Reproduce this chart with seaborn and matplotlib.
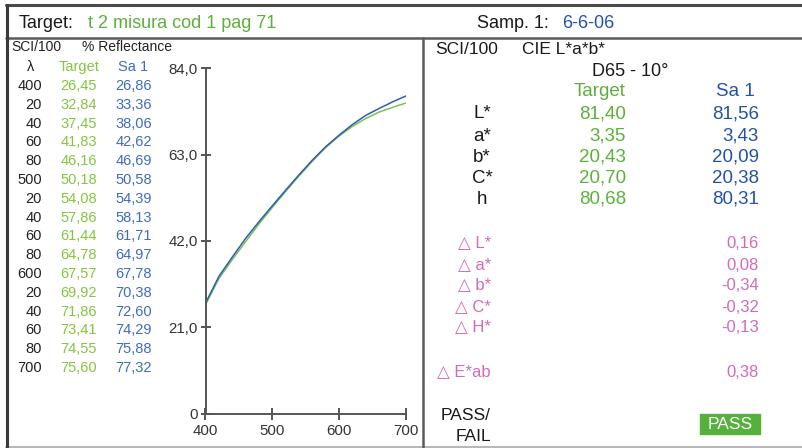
import matplotlib
matplotlib.use("Agg")
import matplotlib.pyplot as plt
from matplotlib.lines import Line2D
from matplotlib.patches import Rectangle
import numpy as np
import pandas as pd
import seaborn as sns

sns.set_theme(style="white")
plt.rcParams["font.family"] = ["Liberation Sans", "DejaVu Sans"]

# ---- data -------------------------------------------------------------
wavelengths = [400, 420, 440, 460, 480, 500, 520, 540, 560, 580,
               600, 620, 640, 660, 680, 700]
wl_labels = ["400", "20", "40", "60", "80", "500", "20", "40", "60", "80",
             "600", "20", "40", "60", "80", "700"]
target_refl = [26.45, 32.84, 37.45, 41.83, 46.16, 50.18, 54.08, 57.86,
               61.44, 64.78, 67.57, 69.92, 71.86, 73.41, 74.55, 75.60]
sample_refl = [26.86, 33.36, 38.06, 42.62, 46.69, 50.58, 54.39, 58.13,
               61.71, 64.97, 67.78, 70.38, 72.60, 74.29, 75.88, 77.32]

y_ticks = [0, 21, 42, 63, 84]
y_tick_labels = ["0", "21,0", "42,0", "63,0", "84,0"]
x_ticks = [400, 500, 600, 700]

lab_names = ["L*", "a*", "b*", "C*", "h"]
lab_target = ["81,40", "3,35", "20,43", "20,70", "80,68"]
lab_sample = ["81,56", "3,43", "20,09", "20,38", "80,31"]

delta_names = ["△ L*", "△ a*", "△ b*", "△ C*", "△ H*"]
delta_values = ["0,16", "0,08", "-0,34", "-0,32", "-0,13"]
delta_e_name = "△ E*ab"
delta_e_value = "0,38"

target_name = "t 2 misura cod 1 pag 71"
sample_date = "6-6-06"
verdict = "PASS"

# ---- colours ----------------------------------------------------------
GREEN = "#5cb03a"
GREEN_LIGHT = "#86c440"
BLUE = "#2552a8"
BLUE_TABLE = "#3f6cc0"
PINK = "#d46ab4"
DARK = "#1a1a1a"
GRAY = "#555555"

W, H = 802, 448
fig = plt.figure(figsize=(W / 100, H / 100), dpi=100)


def fx(x):
    return x / W


def fy(y):
    return 1 - y / H


def text(x, y, s, color=DARK, size=10, ha="left", **kw):
    fig.text(fx(x), fy(y), s, color=color, fontsize=size, ha=ha,
             va="center", **kw)


def hline(y, x0, x1, color=GRAY, lw=2.0):
    fig.add_artist(Line2D([fx(x0), fx(x1)], [fy(y), fy(y)], color=color,
                          lw=lw, transform=fig.transFigure))


def vline(x, y0, y1, color=GRAY, lw=2.0):
    fig.add_artist(Line2D([fx(x), fx(x)], [fy(y0), fy(y1)], color=color,
                          lw=lw, transform=fig.transFigure))


# ---- frame ------------------------------------------------------------
hline(5.5, 6, W, color="#4a4a4a", lw=2.2)
hline(38, 6, W, color="#5a5a5a", lw=1.8)
hline(447, 6, W, color="#b8b8b8", lw=1.5)
vline(6.5, 5, 447, color="#3a3a3a", lw=2.2)
vline(422.5, 38, 447, color="#5a5a5a", lw=1.8)

# ---- header -----------------------------------------------------------
text(19, 23, "Target:", size=13)
text(88, 23, target_name, color=GREEN, size=13)
text(477, 24, "Samp. 1:", size=13)
text(562, 24, sample_date, color=BLUE, size=13)

# ---- reflectance table ------------------------------------------------
text(11, 47, "SCI/100", size=10, color="#222222")
text(82, 47, "% Reflectance", size=10, color="#222222")
text(31, 67, "λ", size=10.5, ha="center", color="#222222")
text(79, 67, "Target", size=10.5, ha="center", color=GREEN_LIGHT)
text(133, 67, "Sa 1", size=10.5, ha="center", color=BLUE_TABLE)
row0, step = 86, 18.8
for i, (lbl, t, s) in enumerate(zip(wl_labels, target_refl, sample_refl)):
    y = row0 + step * i
    text(42, y, lbl, size=10.5, ha="right", color="#222222")
    text(97, y, f"{t:.2f}".replace(".", ","), size=10.5, ha="right",
         color=GREEN_LIGHT)
    text(152, y, f"{s:.2f}".replace(".", ","), size=10.5, ha="right",
         color=BLUE_TABLE)

# ---- reflectance curves -----------------------------------------------
ax = fig.add_axes([fx(205.5), fy(413.5), fx(406) - fx(205.5),
                   fy(68.5) - fy(413.5)])
df = pd.DataFrame({
    "wavelength": wavelengths * 2,
    "reflectance": target_refl + sample_refl,
    "series": ["Target"] * len(wavelengths) + ["Sa 1"] * len(wavelengths),
})
sns.lineplot(data=df, x="wavelength", y="reflectance", hue="series",
             palette={"Target": "#7cc24a", "Sa 1": "#2a5cc0"},
             hue_order=["Target", "Sa 1"], linewidth=1.1, ax=ax,
             legend=False)
ax.set_xlim(400, 700)
ax.set_ylim(0, 84)
ax.set_xticks(x_ticks)
ax.set_xticklabels([str(v) for v in x_ticks])
ax.set_yticks(y_ticks)
ax.set_yticklabels(y_tick_labels)
ax.set_xlabel("")
ax.set_ylabel("")
ax.patch.set_alpha(0)
for side in ("top", "right"):
    ax.spines[side].set_visible(False)
for side in ("left", "bottom"):
    ax.spines[side].set_color(GRAY)
    ax.spines[side].set_linewidth(1.4)
ax.tick_params(axis="y", direction="inout", length=7, width=1.4,
               color=GRAY, labelsize=10.8, labelcolor="#333333", pad=2,
               left=True)
ax.tick_params(axis="x", direction="inout", length=8.5, width=1.4,
               color=GRAY, labelsize=10.8, labelcolor="#333333", pad=3,
               bottom=True)

# ---- CIE L*a*b* panel -------------------------------------------------
text(435, 50, "SCI/100", size=12.5)
text(522, 50, "CIE L*a*b*", size=12.5)
text(630, 72, "D65 - 10°", size=13, ha="center")
text(626, 92, "Target", size=13.5, ha="right", color=GREEN)
text(755, 92, "Sa 1", size=13.5, ha="right", color=BLUE)
rows_y = [114, 136, 157, 178, 199]
for y, n, t, s in zip(rows_y, lab_names, lab_target, lab_sample):
    text(482, y, n, size=13.5, ha="center")
    text(626, y, t, size=13.5, ha="right", color=GREEN)
    text(759, y, s, size=13.5, ha="right", color=BLUE)

delta_y = [243, 265, 286, 307, 328]
for y, n, v in zip(delta_y, delta_names, delta_values):
    text(491, y, n, size=12, ha="right", color=PINK)
    text(759, y, v, size=12, ha="right", color=PINK)
text(491, 372, delta_e_name, size=12, ha="right", color=PINK)
text(759, 372, delta_e_value, size=12, ha="right", color=PINK)

text(491, 415, "PASS/", size=12.5, ha="right")
text(491, 436, "FAIL", size=12.5, ha="right")
fig.add_artist(Rectangle((fx(700), fy(434)), fx(760) - fx(700),
                         fy(414) - fy(434), color="#56b03c",
                         transform=fig.transFigure))
text(730, 424.5, verdict, size=12.5, ha="center", color="white")

fig.savefig("out.png", dpi=100)
